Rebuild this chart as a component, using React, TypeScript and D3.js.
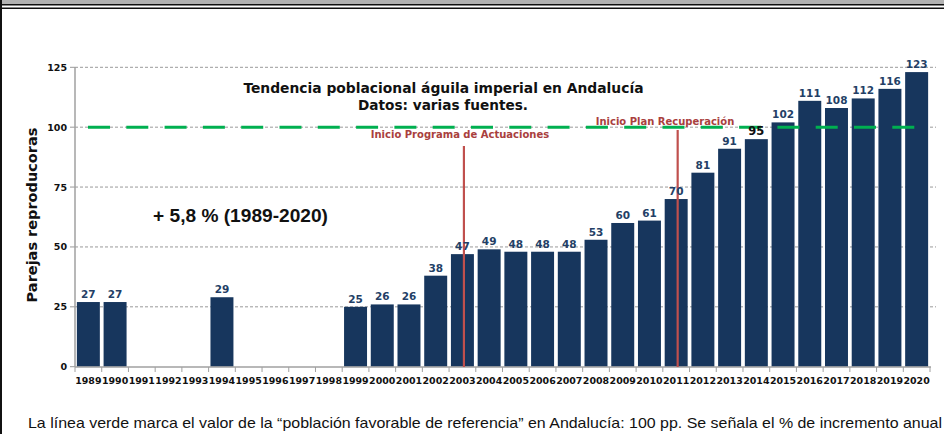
import React, { useEffect, useRef } from 'react'
import * as d3 from 'd3'

const years = d3.range(1989, 2021).map(String)
const values: (number | null)[] = [
  27, 27, null, null, null, 29, null, null, null, null, 25, 26, 26, 38, 47, 49,
  48, 48, 48, 53, 60, 61, 70, 81, 91, 95, 102, 111, 108, 112, 116, 123,
]
const yTicks = [0, 25, 50, 75, 100, 125]
const referenceValue = 100
const markers = [
  { year: '2003', label: 'Inicio Programa de Actuaciones', top: 146, labelX: 460, labelY: 138 },
  { year: '2011', label: 'Inicio Plan Recuperación', top: 130, labelX: 665, labelY: 125 },
]

const W = 944
const H = 434

export default function App() {
  const svgRef = useRef<SVGSVGElement>(null)

  useEffect(() => {
    if (!svgRef.current) return
    const root = d3.select(svgRef.current)
    root.selectAll('*').remove()

    const x = d3.scaleBand().domain(years).range([75, 930]).paddingInner(0.14).paddingOuter(0.07)
    const y = d3.scaleLinear().domain([0, 125]).range([366.7, 67.3])

    // frame at top and left
    root.append('rect').attr('x', 0).attr('y', 0).attr('width', W).attr('height', 4).attr('fill', '#b3b3b3')
    root.append('rect').attr('x', 0).attr('y', 4).attr('width', W).attr('height', 1.5).attr('fill', '#111')
    root.append('rect').attr('x', 0).attr('y', 7.5).attr('width', W).attr('height', 1.5).attr('fill', '#111')
    root.append('rect').attr('x', 0).attr('y', 0).attr('width', 2).attr('height', H).attr('fill', '#111')

    const font = '"DejaVu Sans", Verdana, sans-serif'
    const condensed = '"DejaVu Sans Condensed", "DejaVu Sans", sans-serif'

    // grid
    root.append('g')
      .selectAll('line')
      .data(yTicks.filter(d => d > 0))
      .enter()
      .append('line')
      .attr('x1', 75)
      .attr('x2', 936)
      .attr('y1', d => y(d))
      .attr('y2', d => y(d))
      .attr('stroke', '#9a9a9a')
      .attr('stroke-width', 1)
      .attr('stroke-dasharray', '3,2')

    // y tick labels + ticks
    root.append('g')
      .selectAll('text')
      .data(yTicks)
      .enter()
      .append('text')
      .attr('x', 67)
      .attr('y', d => y(d) + 3.5)
      .attr('text-anchor', 'end')
      .attr('font-family', font)
      .attr('font-weight', 'bold')
      .attr('font-size', 9.5)
      .attr('fill', '#111')
      .text(d => d)
    root.append('g')
      .selectAll('line')
      .data(yTicks)
      .enter()
      .append('line')
      .attr('x1', 70)
      .attr('x2', 75)
      .attr('y1', d => y(d))
      .attr('y2', d => y(d))
      .attr('stroke', '#999')

    // bars
    const data = years.map((yr, i) => ({ yr, v: values[i] })).filter(d => d.v !== null) as { yr: string; v: number }[]
    root.append('g')
      .selectAll('rect')
      .data(data)
      .enter()
      .append('rect')
      .attr('x', d => x(d.yr)!)
      .attr('width', x.bandwidth())
      .attr('y', d => y(d.v))
      .attr('height', d => y(0) - y(d.v))
      .attr('fill', '#17365d')

    // axes lines
    root.append('line').attr('x1', 75).attr('x2', 75).attr('y1', 67).attr('y2', 367).attr('stroke', '#a0a0a0').attr('stroke-width', 1.5)
    root.append('line').attr('x1', 75).attr('x2', 931).attr('y1', 367).attr('y2', 367).attr('stroke', '#a0a0a0').attr('stroke-width', 1.5)
    const step = x.step()
    root.append('g')
      .selectAll('line')
      .data(d3.range(years.length + 1))
      .enter()
      .append('line')
      .attr('x1', i => 75 + (855 / years.length) * i)
      .attr('x2', i => 75 + (855 / years.length) * i)
      .attr('y1', 367)
      .attr('y2', 372)
      .attr('stroke', '#a0a0a0')

    // x labels
    root.append('g')
      .selectAll('text')
      .data(years)
      .enter()
      .append('text')
      .attr('x', d => x(d)! + x.bandwidth() / 2)
      .attr('y', 384)
      .attr('text-anchor', 'middle')
      .attr('font-family', font)
      .attr('font-weight', 'bold')
      .attr('font-size', 9.5)
      .attr('textLength', step - 0.4)
      .attr('lengthAdjust', 'spacingAndGlyphs')
      .attr('fill', '#111')
      .text(d => d)

    // reference line
    root.append('line')
      .attr('x1', 88)
      .attr('x2', 915)
      .attr('y1', y(referenceValue))
      .attr('y2', y(referenceValue))
      .attr('stroke', '#00b050')
      .attr('stroke-width', 3)
      .attr('stroke-dasharray', '22,16.3')

    // markers
    markers.forEach(m => {
      const cx = x(m.year)! + x.bandwidth() / 2 + 1.5
      root.append('line')
        .attr('x1', cx)
        .attr('x2', cx)
        .attr('y1', m.top)
        .attr('y2', 367)
        .attr('stroke', '#c0504d')
        .attr('stroke-width', 2.2)
      root.append('text')
        .attr('x', m.labelX)
        .attr('y', m.labelY)
        .attr('text-anchor', 'middle')
        .attr('font-family', font)
        .attr('font-size', 10)
        .attr('font-weight', 600)
        .attr('fill', '#a9403d')
        .text(m.label)
    })

    // value labels
    root.append('g')
      .selectAll('text')
      .data(data)
      .enter()
      .append('text')
      .attr('x', d => x(d.yr)! + x.bandwidth() / 2)
      .attr('y', d => y(d.v) - 4)
      .attr('text-anchor', 'middle')
      .attr('font-family', font)
      .attr('font-weight', 'bold')
      .attr('font-size', d => (d.v === 95 ? 11.5 : 10.5))
      .attr('fill', d => (d.v === 95 ? '#111' : '#243f66'))
      .text(d => d.v)

    // title
    root.append('text')
      .attr('x', 443.5)
      .attr('y', 93)
      .attr('text-anchor', 'middle')
      .attr('font-family', condensed)
      .attr('font-weight', 'bold')
      .attr('font-size', 14.5)
      .attr('textLength', 400)
      .attr('lengthAdjust', 'spacingAndGlyphs')
      .attr('fill', '#111')
      .text('Tendencia poblacional águila imperial en Andalucía')
    root.append('text')
      .attr('x', 443)
      .attr('y', 109.5)
      .attr('text-anchor', 'middle')
      .attr('font-family', condensed)
      .attr('font-weight', 'bold')
      .attr('font-size', 14.5)
      .attr('textLength', 170)
      .attr('lengthAdjust', 'spacingAndGlyphs')
      .attr('fill', '#111')
      .text('Datos: varias fuentes.')

    // growth annotation
    root.append('text')
      .attr('x', 153)
      .attr('y', 221.5)
      .attr('font-family', '"Liberation Sans", Arial, sans-serif')
      .attr('font-weight', 'bold')
      .attr('font-size', 18.5)
      .attr('textLength', 175)
      .attr('lengthAdjust', 'spacingAndGlyphs')
      .attr('fill', '#111')
      .text('+ 5,8 % (1989-2020)')

    // y axis label
    root.append('text')
      .attr('transform', 'translate(37,215) rotate(-90)')
      .attr('text-anchor', 'middle')
      .attr('font-family', font)
      .attr('font-weight', 'bold')
      .attr('font-size', 14.5)
      .attr('fill', '#111')
      .text('Parejas reproducoras')

    // footnote
    root.append('text')
      .attr('x', 28)
      .attr('y', 428)
      .attr('font-family', '"Liberation Sans", Arial, sans-serif')
      .attr('font-size', 15)
      .attr('textLength', 914)
      .attr('lengthAdjust', 'spacingAndGlyphs')
      .attr('fill', '#111')
      .text('La línea verde marca el valor de la “población favorable de referencia” en Andalucía: 100 pp. Se señala el % de incremento anual')
  }, [])

  return (
    <svg
      ref={svgRef}
      width={W}
      height={H}
      style={{ position: 'absolute', left: 0, top: 0, background: '#fff' }}
    />
  )
}
